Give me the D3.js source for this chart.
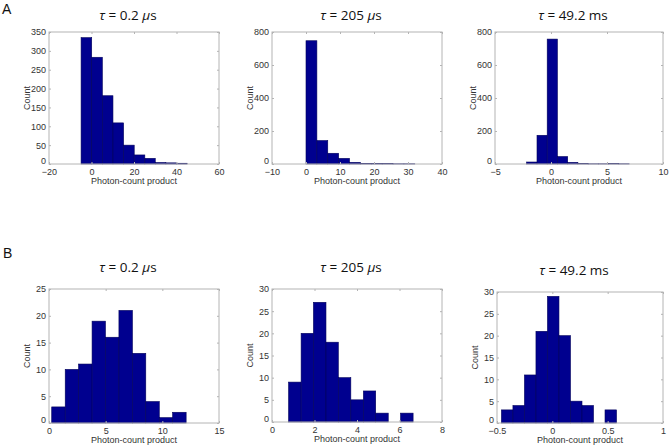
<!DOCTYPE html>
<html>
<head>
<meta charset="utf-8">
<script src="https://cdn.jsdelivr.net/npm/d3@7"></script>
<style>
  body { margin: 0; background: #fff; }
  svg { display: block; }
  .tick text { font-family: "Liberation Sans", Arial, sans-serif; font-size: 9px; fill: #333; }
</style>
</head>
<body>
<svg width="672" height="446"></svg>
<script>
// titles and panel letters
let titles = [["τ", " = 0.2 ", "μ", "s"], ["τ", " = 205 ", "μ", "s"], ["τ", " = 49.2 ms", "", ""]];

let edgesA1 = [-4.9, 0.1, 5.1, 10.1, 15.1, 20.1, 25.1, 30.0, 35.0, 40.0, 45.0];
let countsA1 = [335, 283, 181, 109, 50, 24, 15, 4, 3, 2];
let edgesA2 = [0, 3.2, 6.4, 9.6, 12.8, 16, 19.2, 22.4, 25.6, 28.8, 32];
let countsA2 = [747, 142, 65, 34, 10, 4, 3, 2, 1, 1];
let edgesA3 = [-2.17, -1.25, -0.34, 0.57, 1.49, 2.4, 3.32, 4.23, 5.15, 6.06, 6.98];
let countsA3 = [12, 174, 757, 45, 10, 3, 1, 1, 2, 1];

// row B
let edgesB1 = [0.24, 1.43, 2.61, 3.8, 4.98, 6.17, 7.36, 8.54, 9.73, 10.91, 12.1];
let countsB1 = [3, 10, 11, 19, 16, 21, 13, 4, 1, 2];
let edgesB2 = [0.78, 1.37, 1.95, 2.54, 3.12, 3.71, 4.3, 4.88, 5.47, 6.05, 6.64];
let countsB2 = [9, 20, 27, 18, 10, 5, 7, 2, 0, 2];
let edgesB3 = [-0.46, -0.356, -0.252, -0.148, -0.044, 0.06, 0.164, 0.268, 0.372, 0.476, 0.58];
let countsB3 = [3, 4, 11, 21, 29, 20, 5, 4, 0, 3];

// axis ticks
let xTicksA1 = [-20, 0, 20, 40, 60], yTicksA1 = [0, 50, 100, 150, 200, 250, 300, 350];
let xTicksA2 = [-10, 0, 10, 20, 30, 40], yTicksA2 = [0, 200, 400, 600, 800];
let xTicksA3 = [-5, 0, 5, 10], yTicksA3 = [0, 200, 400, 600, 800];
let xTicksB1 = [0, 5, 10, 15], yTicksB1 = [0, 5, 10, 15, 20, 25];
let xTicksB2 = [0, 2, 4, 6, 8], yTicksB2 = [0, 5, 10, 15, 20, 25, 30];
let xTicksB3 = [-0.5, 0, 0.5, 1], yTicksB3 = [0, 5, 10, 15, 20, 25, 30];

let svg = d3.select("svg");

let panels = [
  {edges: edgesA1, counts: countsA1, xt: xTicksA1, yt: yTicksA1, box: [49, 32, 219, 164], title: 0},
  {edges: edgesA2, counts: countsA2, xt: xTicksA2, yt: yTicksA2, box: [272, 32, 442, 164], title: 1},
  {edges: edgesA3, counts: countsA3, xt: xTicksA3, yt: yTicksA3, box: [495, 32, 663, 164], title: 2},
  {edges: edgesB1, counts: countsB1, xt: xTicksB1, yt: yTicksB1, box: [49, 289, 219, 423], title: 0},
  {edges: edgesB2, counts: countsB2, xt: xTicksB2, yt: yTicksB2, box: [272, 289, 442, 422], title: 1},
  {edges: edgesB3, counts: countsB3, xt: xTicksB3, yt: yTicksB3, box: [497, 292, 663, 423], title: 2}
];

panels.forEach(function(p, idx){
  let x0 = p.box[0], y0 = p.box[1], w = p.box[2] - p.box[0], h = p.box[3] - p.box[1];
  let g = svg.append("g").attr("transform", "translate(" + x0 + "," + y0 + ")");

  let x = d3.scaleLinear().domain(d3.extent(p.xt)).range([0, w]);
  let y = d3.scaleLinear().domain(d3.extent(p.yt)).range([h, 0]);

  let bins = p.counts.map(function(c, i){ return {lo: p.edges[i], hi: p.edges[i+1], n: c}; });

  g.selectAll(".bar")
    .data(bins)
    .enter().append("rect")
      .attr("class", "bar")
      .attr("x", function(d) { return x(d.lo); })
      .attr("y", function(d) { return y(d.n); })
      .attr("width", function(d) { return x(d.hi) - x(d.lo); })
      .attr("height", function(d) { return h - y(d.n); })
      .attr("fill", "#00008f")
      .attr("stroke", "#00005a")
      .attr("stroke-width", 0.6);

  // box
  g.append("rect")
    .attr("width", w).attr("height", h)
    .attr("fill", "none").attr("stroke", "#b4b4b4").attr("stroke-width", 1);

  // axes, ticks point inward like matlab
  g.append("g").attr("transform", "translate(0," + h + ")")
    .call(d3.axisBottom(x).tickValues(p.xt).tickSize(-2).tickPadding(5).tickFormat(d3.format("")));
  let ya = g.append("g")
    .call(d3.axisLeft(y).tickValues(p.yt).tickSize(-2).tickPadding(3).tickFormat(d3.format("")));
  // the zero label sits a bit higher so it doesn't sit on the x label
  ya.selectAll(".tick text").filter(function(d){ return d === 0; }).attr("dy", "-0.05em");
  g.append("g").call(d3.axisTop(x).tickValues(p.xt).tickSize(-2).tickFormat(""));
  g.append("g").attr("transform", "translate(" + w + ",0)")
    .call(d3.axisRight(y).tickValues(p.yt).tickSize(-2).tickFormat(""));
  g.selectAll(".domain").remove();
  g.selectAll(".tick line").attr("stroke", "#b4b4b4");

  g.append("text")
    .attr("x", w / 2).attr("y", h + 20)
    .attr("text-anchor", "middle")
    .style("font-family", "Liberation Sans, Arial, sans-serif")
    .style("font-size", "9px").style("fill", "#333")
    .text("Photon-count product");

  g.append("text")
    .attr("transform", "translate(-19," + (h / 2) + ") rotate(-90)")
    .attr("text-anchor", "middle")
    .style("font-family", "Liberation Sans, Arial, sans-serif")
    .style("font-size", "9px").style("fill", "#333")
    .text("Count");

  let t = titles[p.title];
  let tt = g.append("text")
    .attr("x", w / 2 - 6).attr("y", idx < 3 ? -12 : -17)
    .attr("text-anchor", "middle")
    .style("font-family", "Open Sans, Noto Sans, sans-serif")
    .style("font-size", "13.5px").style("fill", "#111");
  tt.append("tspan").style("font-style", "italic").text(t[0]);
  tt.append("tspan").text(t[1]);
  if (t[2]) tt.append("tspan").style("font-style", "italic").text(t[2]);
  if (t[3]) tt.append("tspan").text(t[3]);
});

svg.append("text").attr("x", 2).attr("y", 14)
  .style("font-family", "Liberation Sans, Arial, sans-serif").style("font-size", "14px").style("fill", "#111")
  .text("A");
svg.append("text").attr("x", 3).attr("y", 258)
  .style("font-family", "Liberation Sans, Arial, sans-serif").style("font-size", "14px").style("fill", "#111")
  .text("B");
</script>
</body>
</html>
